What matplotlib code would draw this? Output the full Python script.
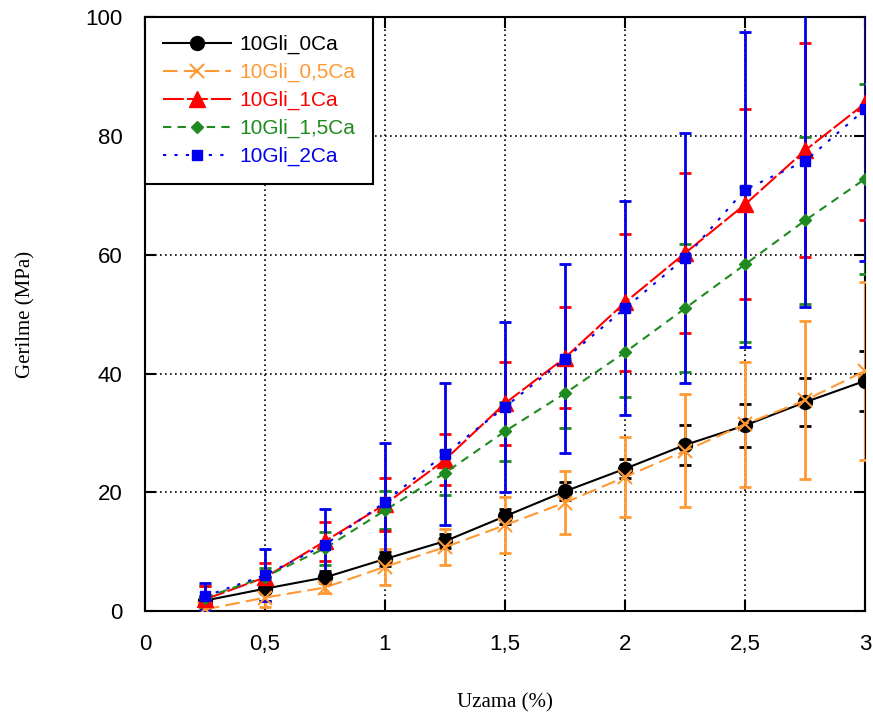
import matplotlib
matplotlib.use("Agg")
import matplotlib.pyplot as plt
from matplotlib.ticker import FuncFormatter, MultipleLocator

# strain (%)
uzama = [0.25, 0.5, 0.75, 1.0, 1.25, 1.5, 1.75, 2.0, 2.25, 2.5, 2.75, 3.0]

# stress means (MPa)
gli_0ca = [1.8, 3.8, 5.7, 8.8, 11.8, 16.0, 20.2, 24.0, 28.0, 31.3, 35.2, 38.8]
gli_05ca = [0.3, 2.3, 4.0, 7.5, 10.8, 14.5, 18.3, 22.6, 27.0, 31.5, 35.5, 40.5]
gli_1ca = [2.0, 5.7, 11.8, 18.0, 25.5, 35.0, 42.7, 52.0, 60.3, 68.5, 77.6, 85.5]
gli_15ca = [2.3, 5.8, 10.6, 17.0, 23.3, 30.3, 36.7, 43.6, 51.0, 58.4, 65.8, 72.8]
gli_2ca = [2.5, 6.1, 11.2, 18.4, 26.5, 34.4, 42.5, 51.0, 59.5, 71.0, 75.8, 84.5]

# symmetric error bars (MPa)
err_0ca = [0.8, 2.0, 1.0, 1.2, 1.2, 1.3, 1.5, 1.6, 3.3, 3.6, 4.0, 5.0]
err_05ca = [1.0, 1.5, 1.0, 3.0, 3.0, 4.7, 5.3, 6.8, 9.5, 10.5, 13.3, 15.0]
err_1ca = [2.3, 2.5, 3.3, 4.5, 4.3, 7.0, 8.5, 11.5, 13.5, 16.0, 18.0, 19.6]
err_15ca = [2.0, 1.5, 2.8, 3.2, 3.7, 5.0, 5.8, 7.6, 10.8, 13.0, 14.0, 16.0]
err_2ca = [2.3, 4.4, 6.1, 10.0, 12.0, 14.3, 15.9, 18.0, 21.0, 26.5, 24.5, 25.5]

labels = ["10Gli_0Ca", "10Gli_0,5Ca", "10Gli_1Ca", "10Gli_1,5Ca", "10Gli_2Ca"]

SERIES = [
    # mean, err, color, marker, ms, dashes, zorder of error bars
    (gli_0ca, err_0ca, "black", "o", 10, None, 3),
    (gli_05ca, err_05ca, "#ff9933", "x", 10, (7, 3), 5),
    (gli_1ca, err_1ca, "#ff0000", "^", 11, (10, 1.5), 3.2),
    (gli_15ca, err_15ca, "#1f8a1f", "D", 6, (4, 3), 3.1),
    (gli_2ca, err_2ca, "#0000ee", "s", 7, (1.5, 4), 5.5),
]

plt.rcParams["font.family"] = ["Liberation Sans", "DejaVu Sans"]

fig = plt.figure(figsize=(8.73, 7.2), dpi=100)
ax = fig.add_axes([0.166, 0.151, 0.825, 0.825])

handles = []
for (mean, err, color, marker, ms, dashes, ez), lab in zip(SERIES, labels):
    ax.errorbar(uzama, mean, yerr=err, fmt="none", ecolor=color,
                elinewidth=2, capsize=4, capthick=2, zorder=ez)
    kw = dict(color=color, lw=1.5, marker=marker, markersize=ms,
              markeredgecolor=color, markerfacecolor=color, zorder=7)
    if marker == "x":
        kw["markeredgewidth"] = 1.5
    if dashes is None:
        (ln,) = ax.plot(uzama, mean, ls="-", label=lab, **kw)
    else:
        (ln,) = ax.plot(uzama, mean, ls=(0, dashes), label=lab, **kw)
    handles.append(ln)

ax.set_xlim(0, 3)
ax.set_ylim(0, 100)
ax.xaxis.set_major_locator(MultipleLocator(0.5))
ax.yaxis.set_major_locator(MultipleLocator(20))
comma = FuncFormatter(lambda v, pos: f"{v:g}".replace(".", ","))
ax.xaxis.set_major_formatter(comma)
ax.yaxis.set_major_formatter(comma)
ax.grid(True, color="black", ls=(0, (1, 2)), lw=1.2)
ax.tick_params(direction="in", length=8, width=1.5, top=True, right=True,
               labelsize=16, pad=16)
for sp in ax.spines.values():
    sp.set_linewidth(1.5)

ax.set_xlabel("Uzama (%)", family="Liberation Serif", fontsize=15, labelpad=28)
ax.set_ylabel("Gerilme (MPa)", family="Liberation Serif", fontsize=15, labelpad=36)

leg = ax.legend(handles=handles, loc="upper left", borderaxespad=0,
                fancybox=False, edgecolor="black", framealpha=1,
                fontsize=15, handlelength=3.3, borderpad=0.85,
                labelspacing=0.42, handletextpad=0.4)
leg.get_frame().set_linewidth(1.5)
leg.set_zorder(10)
for txt, (_, _, color, *_rest) in zip(leg.get_texts(), SERIES):
    txt.set_color(color)

fig.savefig("out.png", dpi=100)
